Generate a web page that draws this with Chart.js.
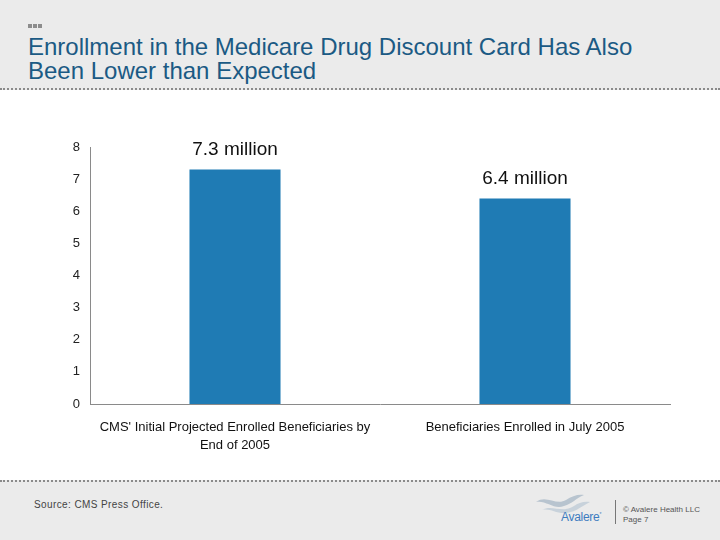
<!DOCTYPE html>
<html lang="en">
<head>
<meta charset="utf-8">
<script src="https://cdn.jsdelivr.net/npm/chart.js@4/dist/chart.umd.min.js"></script>
<style>
	body { margin: 0; width: 720px; height: 540px; position: relative; background: #fff; font-family: "Liberation Sans", Arial, sans-serif; overflow: hidden; }
	#head { position: absolute; left: 0; top: 0; width: 720px; height: 88px; background: #ebebeb; border-bottom: 2px dotted #8a8a8a; }
	#dots { position: absolute; left: 28px; top: 24px; display: flex; gap: 1px; }
	#dots span { display: block; width: 4px; height: 4px; background: #8c8c8c; }
	#title { position: absolute; left: 28px; top: 35px; font-size: 24px; line-height: 24px; color: #1b5a84; }
	#foot { position: absolute; left: 0; top: 480px; width: 720px; height: 60px; background: #ebebeb; border-top: 2px dotted #8a8a8a; }
	#src { position: absolute; left: 34px; top: 17px; font-size: 10px; color: #444; letter-spacing: 0.4px; }
	#logo { position: absolute; left: 532px; top: 10px; }
	#logotext { position: absolute; left: 561px; top: 28px; font-size: 12px; color: #3d7cc0; letter-spacing: -0.3px; }
	#vline { position: absolute; left: 615px; top: 18px; width: 1px; height: 24px; background: #777; }
	#copy { position: absolute; left: 623px; top: 23px; font-size: 8px; line-height: 10px; color: #555; }
	#wrap { position: absolute; left: 0; top: 90px; width: 720px; height: 390px; }
</style>
</head>
<body>
	<div id="head">
		<div id="dots"><span></span><span></span><span></span></div>
		<div id="title">Enrollment in the Medicare Drug Discount Card Has Also<br>Been Lower than Expected</div>
	</div>
	<div id="wrap"><canvas id="myChart"></canvas></div>
	<div id="foot">
		<div id="src">Source: CMS Press Office.</div>
		<svg id="logo" width="70" height="24" viewBox="0 0 70 24">
			<path d="M4 10 C14 2 24 14 34 8 C40 4 46 2 52 3 C44 6 40 12 32 14 C22 18 14 8 4 10 Z" fill="#b8c4cf"/>
			<path d="M10 18 C20 12 30 22 42 14 C46 11 52 9 58 10 C50 14 44 20 34 21 C24 22 18 16 10 18 Z" fill="#c8d2db"/>
		</svg>
		<div id="logotext">Avalere<sup style="font-size:5px">*</sup></div>
		<div id="vline"></div>
		<div id="copy">© Avalere Health LLC<br>Page 7</div>
	</div>
	<script>
		const categories = [
			["CMS' Initial Projected Enrolled Beneficiaries by", "End of 2005"],
			"Beneficiaries Enrolled in July 2005"
		];
		const enrolled = [7.3, 6.4];
		const valueLabels = ["7.3 million", "6.4 million"];
		const yTicks = [0, 1, 2, 3, 4, 5, 6, 7, 8];

		const barLabels = {
			id: "barLabels",
			afterDatasetsDraw(chart) {
				const ctx = chart.ctx;
				const meta = chart.getDatasetMeta(0);
				ctx.save();
				ctx.font = "19px 'Liberation Sans', Arial, sans-serif";
				ctx.fillStyle = "#111";
				ctx.textAlign = "center";
				ctx.textBaseline = "bottom";
				meta.data.forEach((bar, i) => {
					ctx.fillText(valueLabels[i], bar.x, bar.y - 10);
				});
				ctx.restore();
			}
		};

		var ctx = document.getElementById("myChart").getContext("2d");
		var myChart = new Chart(ctx, {
			type: "bar",
			data: {
				labels: categories,
				datasets: [
					{
						label: "Enrollment (millions)",
						data: enrolled,
						backgroundColor: "#1f7bb4",
						barPercentage: 0.314,
						categoryPercentage: 1
					}
				]
			},
			options: {
				responsive: true,
				maintainAspectRatio: false,
				animation: false,
				layout: { padding: { left: 0, right: 50, top: 57, bottom: 0 } },
				plugins: { legend: { display: false }, tooltip: { enabled: false } },
				scales: {
					x: {
						grid: { display: false, drawTicks: false },
						border: { color: "#8a8a8a", width: 1 },
						ticks: {
							color: "#111",
							padding: 14,
							maxRotation: 0,
							autoSkip: false,
							font: { family: "'Liberation Sans', Arial", size: 13, lineHeight: 1.4 }
						},
						afterFit(scale) { scale.height = 76; }
					},
					y: {
						min: 0,
						max: 8,
						afterBuildTicks(scale) { scale.ticks = yTicks.map(v => ({ value: v })); },
						grid: { display: false, drawTicks: false },
						border: { color: "#8a8a8a", width: 1 },
						ticks: {
							color: "#222",
							padding: 10,
							font: { family: "'Liberation Sans', Arial", size: 13 }
						},
						afterFit(scale) { scale.width = 90; }
					}
				}
			},
			plugins: [barLabels]
		});
	</script>
</body>
</html>
